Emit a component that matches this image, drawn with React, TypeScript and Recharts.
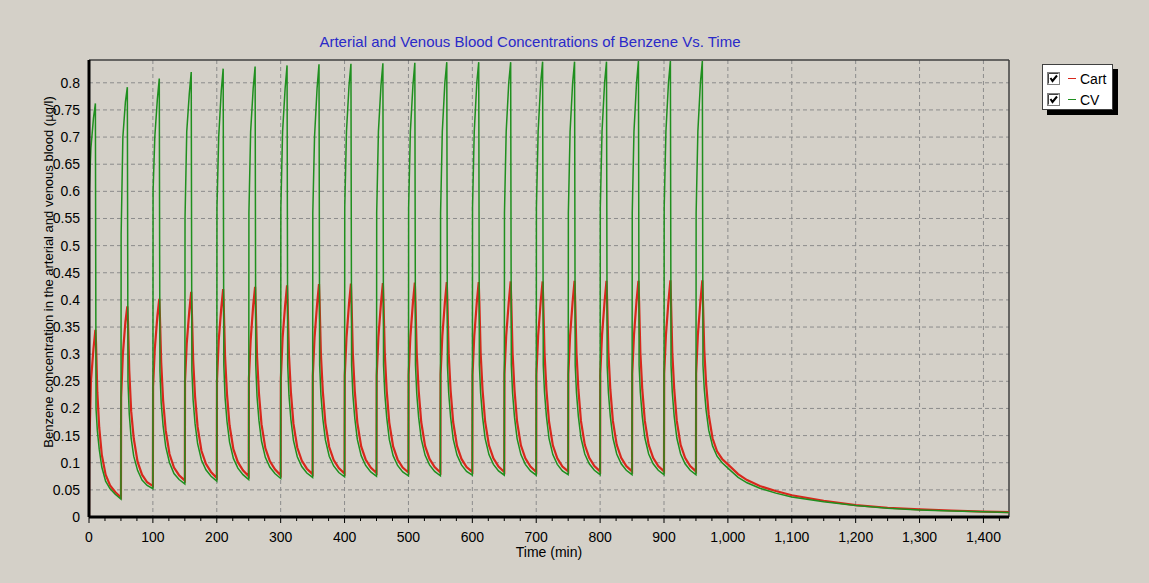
import React from 'react';
import { LineChart, Line, XAxis, YAxis, CartesianGrid, ReferenceLine } from 'recharts';

// Exposure cycle start times (min) and sample offsets within each 50-min cycle
const cycleStarts = [0, 50, 100, 150, 200, 250, 300, 350, 400, 450, 500, 550, 600, 650, 700, 750, 800, 850, 900, 950];
const cycleOffsets = [0, 0.3, 3, 7, 10, 11, 13, 16, 20, 26, 33, 41];

// Venous blood (CV) values per cycle
const cvCycles: number[][] = [
  [0, 0.600, 0.680, 0.735, 0.762, 0.200, 0.160, 0.125, 0.092, 0.066, 0.052, 0.042],
  [0.033, 0.520, 0.700, 0.765, 0.792, 0.250, 0.190, 0.145, 0.112, 0.086, 0.068, 0.058],
  [0.052, 0.600, 0.700, 0.770, 0.808, 0.270, 0.210, 0.168, 0.130, 0.100, 0.080, 0.069],
  [0.061, 0.550, 0.710, 0.780, 0.820, 0.270, 0.215, 0.172, 0.135, 0.105, 0.087, 0.075],
  [0.066, 0.570, 0.700, 0.785, 0.826, 0.280, 0.220, 0.176, 0.138, 0.108, 0.090, 0.078],
  [0.069, 0.560, 0.710, 0.790, 0.830, 0.280, 0.222, 0.178, 0.140, 0.110, 0.092, 0.080],
  [0.071, 0.570, 0.710, 0.790, 0.832, 0.280, 0.224, 0.180, 0.141, 0.111, 0.093, 0.081],
  [0.073, 0.560, 0.700, 0.790, 0.834, 0.280, 0.225, 0.181, 0.142, 0.112, 0.094, 0.082],
  [0.074, 0.570, 0.710, 0.795, 0.835, 0.280, 0.226, 0.182, 0.143, 0.113, 0.095, 0.083],
  [0.075, 0.560, 0.710, 0.795, 0.836, 0.280, 0.227, 0.183, 0.143, 0.113, 0.095, 0.083],
  [0.076, 0.570, 0.710, 0.795, 0.837, 0.280, 0.227, 0.183, 0.144, 0.114, 0.096, 0.084],
  [0.076, 0.560, 0.710, 0.800, 0.838, 0.280, 0.228, 0.184, 0.144, 0.114, 0.096, 0.084],
  [0.077, 0.570, 0.710, 0.800, 0.838, 0.280, 0.228, 0.184, 0.145, 0.115, 0.097, 0.085],
  [0.077, 0.560, 0.710, 0.800, 0.838, 0.280, 0.228, 0.184, 0.145, 0.115, 0.097, 0.085],
  [0.077, 0.570, 0.710, 0.800, 0.839, 0.280, 0.229, 0.185, 0.145, 0.115, 0.097, 0.085],
  [0.078, 0.560, 0.710, 0.800, 0.839, 0.280, 0.229, 0.185, 0.146, 0.116, 0.098, 0.086],
  [0.078, 0.570, 0.710, 0.800, 0.839, 0.280, 0.229, 0.185, 0.146, 0.116, 0.098, 0.086],
  [0.078, 0.560, 0.710, 0.800, 0.840, 0.280, 0.229, 0.185, 0.146, 0.116, 0.098, 0.086],
  [0.078, 0.570, 0.710, 0.800, 0.840, 0.280, 0.229, 0.185, 0.146, 0.116, 0.098, 0.086],
  [0.078, 0.560, 0.710, 0.800, 0.840, 0.280, 0.236, 0.196, 0.160, 0.131, 0.112, 0.100],
];

// Arterial blood (Cart) values per cycle
const cartCycles: number[][] = [
  [0, 0.120, 0.250, 0.310, 0.345, 0.320, 0.230, 0.165, 0.115, 0.078, 0.058, 0.046],
  [0.036, 0.220, 0.300, 0.360, 0.388, 0.360, 0.270, 0.195, 0.145, 0.102, 0.078, 0.064],
  [0.057, 0.240, 0.310, 0.370, 0.402, 0.370, 0.285, 0.215, 0.160, 0.116, 0.091, 0.077],
  [0.067, 0.250, 0.320, 0.380, 0.415, 0.380, 0.290, 0.222, 0.166, 0.122, 0.098, 0.083],
  [0.072, 0.250, 0.325, 0.385, 0.420, 0.385, 0.294, 0.226, 0.169, 0.125, 0.101, 0.086],
  [0.075, 0.255, 0.325, 0.390, 0.424, 0.388, 0.296, 0.228, 0.171, 0.127, 0.103, 0.088],
  [0.077, 0.255, 0.330, 0.390, 0.427, 0.390, 0.298, 0.230, 0.172, 0.128, 0.104, 0.089],
  [0.079, 0.260, 0.330, 0.392, 0.429, 0.392, 0.299, 0.231, 0.173, 0.129, 0.105, 0.090],
  [0.080, 0.260, 0.330, 0.393, 0.430, 0.393, 0.300, 0.232, 0.174, 0.130, 0.106, 0.091],
  [0.081, 0.260, 0.332, 0.394, 0.431, 0.394, 0.300, 0.232, 0.174, 0.130, 0.106, 0.091],
  [0.082, 0.262, 0.332, 0.395, 0.432, 0.395, 0.301, 0.233, 0.175, 0.131, 0.107, 0.092],
  [0.082, 0.262, 0.333, 0.395, 0.433, 0.395, 0.301, 0.233, 0.175, 0.131, 0.107, 0.092],
  [0.083, 0.262, 0.333, 0.396, 0.433, 0.396, 0.302, 0.234, 0.176, 0.132, 0.108, 0.093],
  [0.083, 0.263, 0.334, 0.396, 0.434, 0.396, 0.302, 0.234, 0.176, 0.132, 0.108, 0.093],
  [0.083, 0.263, 0.334, 0.397, 0.434, 0.397, 0.302, 0.234, 0.176, 0.132, 0.108, 0.093],
  [0.084, 0.263, 0.334, 0.397, 0.435, 0.397, 0.303, 0.235, 0.177, 0.133, 0.109, 0.094],
  [0.084, 0.264, 0.335, 0.397, 0.435, 0.397, 0.303, 0.235, 0.177, 0.133, 0.109, 0.094],
  [0.084, 0.264, 0.335, 0.398, 0.435, 0.398, 0.303, 0.235, 0.177, 0.133, 0.109, 0.094],
  [0.084, 0.264, 0.335, 0.398, 0.436, 0.398, 0.303, 0.235, 0.177, 0.133, 0.109, 0.094],
  [0.084, 0.264, 0.335, 0.398, 0.436, 0.398, 0.308, 0.244, 0.188, 0.145, 0.121, 0.107],
];

// Wash-out after the last exposure
const tailTimes = [1000, 1016, 1030, 1050, 1075, 1100, 1150, 1200, 1250, 1300, 1350, 1400, 1440];
const cvTail = [0.090, 0.073, 0.063, 0.053, 0.044, 0.037, 0.028, 0.021, 0.016, 0.013, 0.011, 0.0095, 0.0085];
const cartTail = [0.097, 0.079, 0.068, 0.057, 0.048, 0.040, 0.030, 0.022, 0.017, 0.014, 0.012, 0.010, 0.009];

// Axis ticks
const yTicks = [0, 0.05, 0.1, 0.15, 0.2, 0.25, 0.3, 0.35, 0.4, 0.45, 0.5, 0.55, 0.6, 0.65, 0.7, 0.75, 0.8];
const xMajorTicks = [0, 100, 200, 300, 400, 500, 600, 700, 800, 900, 1000, 1100, 1200, 1300, 1400];
const xMinorTicks = [25, 50, 75, 125, 150, 175, 225, 250, 275, 325, 350, 375, 425, 450, 475, 525, 550, 575, 625, 650, 675, 725, 750, 775, 825, 850, 875, 925, 950, 975, 1025, 1050, 1075, 1125, 1150, 1175, 1225, 1250, 1275, 1325, 1350, 1375, 1425];
const xAllTicks = [...xMajorTicks, ...xMinorTicks].sort((a, b) => a - b);

const X_MAX = 1440;
const Y_MAX = 0.842;

const data: { t: number; cart: number; cv: number }[] = [];
cycleStarts.forEach((s, k) => {
  cycleOffsets.forEach((o, j) => {
    data.push({ t: s + o, cart: cartCycles[k][j], cv: cvCycles[k][j] });
  });
});
tailTimes.forEach((t, i) => data.push({ t, cart: cartTail[i], cv: cvTail[i] }));

const FONT = '"Liberation Sans", Arial, sans-serif';
const CART_COLOR = '#d8281c';
const CV_COLOR = '#1f8f1f';

const majorSet = new Set(xMajorTicks);

const XTick = (props: any) => {
  const { x, y, payload } = props;
  const v = payload.value as number;
  const major = majorSet.has(v);
  return (
    <g>
      <line x1={x} x2={x} y1={y} y2={y + (major ? 6 : 4)} stroke="#000" strokeWidth={1} />
      {major && (
        <text x={x} y={y + 25} textAnchor="middle" fill="#000" fontSize={14} fontFamily={FONT}>
          {v.toLocaleString('en-US')}
        </text>
      )}
    </g>
  );
};

const CheckBox = () => (
  <svg width={13} height={13} style={{ display: 'block' }}>
    <rect x={0.5} y={0.5} width={12} height={12} fill="#fff" stroke="#808080" />
    <line x1={1.5} y1={1.5} x2={11.5} y2={1.5} stroke="#404040" />
    <line x1={1.5} y1={1.5} x2={1.5} y2={11.5} stroke="#404040" />
    <polyline points="3.5,6 5.5,9 10,3.5" fill="none" stroke="#000" strokeWidth={2} />
  </svg>
);

const legendItems = [
  { name: 'Cart', color: CART_COLOR },
  { name: 'CV', color: CV_COLOR },
];

export default function App() {
  return (
    <div
      style={{
        position: 'absolute',
        left: 0,
        top: 0,
        width: 1149,
        height: 583,
        background: '#D4D0C8',
        overflow: 'hidden',
        fontFamily: FONT,
      }}
    >
      <div
        style={{
          position: 'absolute',
          left: 0,
          width: 1060,
          top: 33,
          textAlign: 'center',
          color: '#2a2ac8',
          fontSize: 15,
          whiteSpace: 'nowrap',
        }}
      >
        Arterial and Venous Blood Concentrations of Benzene Vs. Time
      </div>
      <LineChart
        width={1149}
        height={583}
        data={data}
        margin={{ top: 60, right: 140, bottom: 26, left: 39 }}
      >
        <CartesianGrid
          stroke="#8c8c8c"
          strokeDasharray="4 3"
          horizontalValues={yTicks}
          verticalValues={xMajorTicks}
        />
        <XAxis
          dataKey="t"
          type="number"
          domain={[0, X_MAX]}
          ticks={xAllTicks}
          interval={0}
          height={40}
          allowDataOverflow
          tickSize={0}
          tickMargin={0}
          tickLine={false}
          axisLine={{ stroke: '#000', strokeWidth: 3 }}
          tick={<XTick />}
          label={(p: any) => (
            <text x={549} y={557} textAnchor="middle" fill="#000" fontSize={14} fontFamily={FONT}>
              Time (min)
            </text>
          )}
        />
        <YAxis
          type="number"
          domain={[0, Y_MAX]}
          ticks={yTicks}
          interval={0}
          width={50}
          allowDataOverflow
          tickSize={0}
          tickMargin={9}
          tickLine={false}
          axisLine={{ stroke: '#000', strokeWidth: 3 }}
          tick={{ fill: '#000', fontSize: 14, fontFamily: FONT }}
          label={(p: any) => (
            <text
              x={53}
              y={272}
              transform="rotate(-90 53 272)"
              textAnchor="middle"
              fill="#000"
              fontSize={13}
              fontFamily={FONT}
            >
              Benzene concentration in the arterial and venous blood (µg/l)
            </text>
          )}
        />
        <ReferenceLine y={Y_MAX} stroke="#404040" strokeWidth={1.5} ifOverflow="visible" />
        <ReferenceLine x={X_MAX} stroke="#404040" strokeWidth={1.5} ifOverflow="visible" />
        <Line
          type="linear"
          dataKey="cart"
          name="Cart"
          stroke={CART_COLOR}
          strokeWidth={2.2}
          dot={false}
          isAnimationActive={false}
        />
        <Line
          type="linear"
          dataKey="cv"
          name="CV"
          stroke={CV_COLOR}
          strokeWidth={1.5}
          dot={false}
          isAnimationActive={false}
        />
      </LineChart>
      <div
        style={{
          position: 'absolute',
          left: 1042,
          top: 64,
          width: 71,
          height: 46,
          background: '#fff',
          border: '1px solid #404040',
          boxShadow: '5px 5px 0 #000',
          boxSizing: 'border-box',
          paddingTop: 5,
        }}
      >
        {legendItems.map((it) => (
          <div key={it.name} style={{ display: 'flex', alignItems: 'center', height: 17, marginBottom: 4, paddingLeft: 4 }}>
            <CheckBox />
            <span style={{ display: 'inline-block', width: 8, height: 1.5, background: it.color, marginLeft: 8, marginRight: 4 }} />
            <span style={{ fontSize: 14, color: '#000' }}>{it.name}</span>
          </div>
        ))}
      </div>
    </div>
  );
}
